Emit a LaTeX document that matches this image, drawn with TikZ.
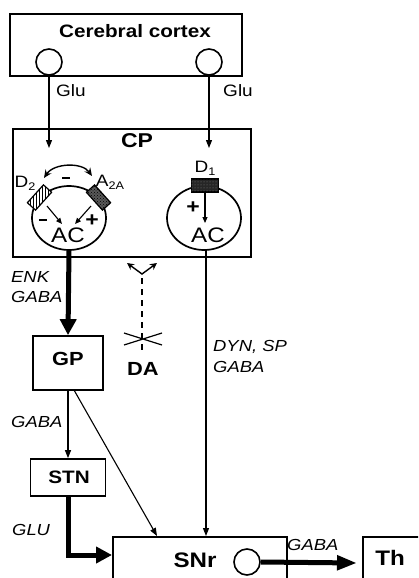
\documentclass[tikz,border=0pt]{standalone}
\usepackage{fontspec}
\setmainfont[FakeStretch=1.15]{Liberation Sans}
\usetikzlibrary{arrows.meta,patterns,shapes.geometric}
\begin{document}
\begin{tikzpicture}[x=1pt,y=-1pt,
  box/.style={draw,line width=1.7pt,inner sep=0pt},
  bx/.style={inner sep=0pt,font=\bfseries\fontsize{19}{19}\selectfont},
  rg/.style={inner sep=0pt,font=\fontsize{16.5}{17}\selectfont},
  it/.style={inner sep=0pt,anchor=west,font=\itshape\fontsize{16}{16}\selectfont},
  thinarrow/.style={line width=1.1pt,-{Triangle[length=8pt,width=6pt]}},
  thickarrow/.style={line width=5pt,-{Triangle[length=16pt,width=16pt]}},
  knob/.style={draw,circle,line width=1.6pt,fill=white,minimum size=26pt,inner sep=0pt},
  cell/.style={draw,ellipse,line width=1.7pt,minimum width=74pt,minimum height=64pt,inner sep=0pt},
  sign/.style={inner sep=0pt,font=\bfseries\fontsize{20}{20}\selectfont}
]
\useasboundingbox (0,0) rectangle (418,578);
\clip (0,0) rectangle (418,578);
\fill[white] (0,0) rectangle (418,578);

% Cerebral cortex
\node[box,minimum width=232pt,minimum height=62pt] (cortex) at (126,45) {};
\node[bx,font=\bfseries\fontsize{18}{18}\selectfont] (cortextxt) at (135,31) {Cerebral cortex};
\node[knob] (cL) at (49,62) {};
\node[knob] (cR) at (209,62) {};

% CP
\node[box,minimum width=238pt,minimum height=128pt] (CP) at (132,193) {};
\node[bx,font=\bfseries\fontsize{20}{20}\selectfont] (CPtxt) at (137,141) {CP};
\coordinate (gL) at (49,148);
\coordinate (gR) at (209,148);
\draw[thinarrow] (cL.south) -- (gL);
\draw[thinarrow] (cR.south) -- (gR);
\node[rg] (glu1) at (71,91) {Glu};
\node[rg] (glu2) at (238,91) {Glu};

% left cell
\node[cell] (cellL) at (69,218) {};
\node[draw,line width=1.2pt,fill=white,minimum width=24pt,minimum height=11pt,inner sep=0pt,rotate=48,
      postaction={pattern=vertical lines}] (D2) at (39.5,197.5) {};
\node[draw,line width=1.2pt,fill=black!65,minimum width=24pt,minimum height=11pt,inner sep=0pt,rotate=-48,
      postaction={pattern=crosshatch dots}] (A2A) at (98.5,197.5) {};
\node[inner sep=0pt,font=\fontsize{16.5}{17}\selectfont] (D2txt) at (25,183) {D\raisebox{-0.35ex}{\fontsize{11}{11}\selectfont 2}};
\node[inner sep=0pt,font=\fontsize{16.5}{17}\selectfont] (A2Atxt) at (110,182) {A\raisebox{-0.35ex}{\fontsize{11}{11}\selectfont 2A}};
\coordinate (curvL) at (44,178);
\coordinate (curvR) at (92,176);
\draw[line width=1.4pt,{Stealth[length=8pt,width=7pt]}-{Stealth[length=8pt,width=7pt]}]
  (curvL) .. controls (54,163) and (82,162) .. (curvR);
\node[fill=black,minimum width=8pt,minimum height=2.6pt,inner sep=0pt] (minusTop) at (66,178) {};
\node[rg,font=\fontsize{21}{21}\selectfont] (ACL) at (68,235) {AC};
\coordinate (acL1) at (62,224);
\coordinate (acL2) at (75,224);
\draw[line width=1.1pt,-{Triangle[length=6pt,width=5pt]}] (47,206) -- (acL1);
\draw[line width=1.1pt,-{Triangle[length=6pt,width=5pt]}] (91,206) -- (acL2);
\node[fill=black,minimum width=8pt,minimum height=2.6pt,inner sep=0pt] (minusL) at (43,220) {};
\node[sign] (plusL) at (92,221) {+};

% right cell
\node[cell] (cellR) at (204,218) {};
\node[draw,line width=1.2pt,fill=black!85,minimum width=27pt,minimum height=13pt,inner sep=0pt,
      postaction={pattern=dots,pattern color=gray}] (D1) at (205,185.5) {};
\node[inner sep=0pt,font=\fontsize{16.5}{17}\selectfont] (D1txt) at (205,168) {D\raisebox{-0.35ex}{\fontsize{11}{11}\selectfont 1}};
\coordinate (acR) at (205,223);
\draw[line width=1.1pt,-{Triangle[length=6pt,width=5pt]}] (D1.south) -- (acR);
\node[sign] (plusR) at (193,208) {+};
\node[rg,font=\fontsize{21}{21}\selectfont] (ACR) at (208,235) {AC};

% GP
\node[box,minimum width=70pt,minimum height=54pt] (GP) at (68,363) {};
\node[bx] (GPtxt) at (68,359) {GP};
\draw[thickarrow] (cellL.south) -- (GP.north);
\node[it] (enk) at (11,277) {ENK};
\node[it] (gaba1) at (11,297) {GABA};

% DA
\coordinate (daL) at (127,263);
\coordinate (daM) at (142,274);
\coordinate (daR) at (157,263);
\draw[line width=1.4pt,{Stealth[length=7pt,width=7pt]}-{Stealth[length=7pt,width=7pt]}] (daL) -- (daM) -- (daR);
\coordinate (dashTop) at (142,278);
\coordinate (dashBot) at (142,354);
\draw[line width=1.6pt,dash pattern=on 6pt off 5pt] (dashTop) -- (dashBot);
\draw[line width=1.2pt] (124,333) -- (162,345) (124,345) -- (162,333);
\node[bx] (DA) at (143,369) {DA};

% right pathway
\node[it] (dyn) at (213,347) {DYN, SP};
\node[it] (gaba2) at (213,367) {GABA};

% STN
\node[box,minimum width=75pt,minimum height=37pt] (STN) at (68,477.5) {};
\node[bx,font=\bfseries\fontsize{18}{18}\selectfont] (STNtxt) at (69,477) {STN};
\draw[thinarrow] (GP.south) -- (STN.north);
\node[it] (gaba3) at (11,422) {GABA};
\node[it] (glu3) at (12,530) {GLU};

% SNr
\node[box,minimum width=174pt,minimum height=80pt,anchor=north west] (SNr) at (112,536) {};
\node[bx,font=\bfseries\fontsize{21}{21}\selectfont] (SNrtxt) at (195,560) {SNr};
\node[knob] (sC) at (247,562) {};
\coordinate (snrIn) at (112,555);
\draw[thickarrow] (STN.south) |- (snrIn);
\coordinate (gpOut) at (74,390);
\coordinate (snrTopL) at (157,536);
\draw[thinarrow] (gpOut) -- (snrTopL);
\coordinate (cellRout) at (206,250);
\coordinate (snrTopR) at (206,536);
\draw[thinarrow] (cellRout) -- (snrTopR);

% Th
\node[box,minimum width=80pt,minimum height=80pt,anchor=north west] (Th) at (362,536) {};
\node[bx,font=\bfseries\fontsize{21}{21}\selectfont] (Thtxt) at (390,558) {Th};
\coordinate (thIn) at (357,563);
\draw[line width=5pt,-{Triangle[length=20pt,width=14pt]}] (sC.east) -- (thIn);
\node[it] (gaba4) at (287,545) {GABA};
\end{tikzpicture}
\end{document}
